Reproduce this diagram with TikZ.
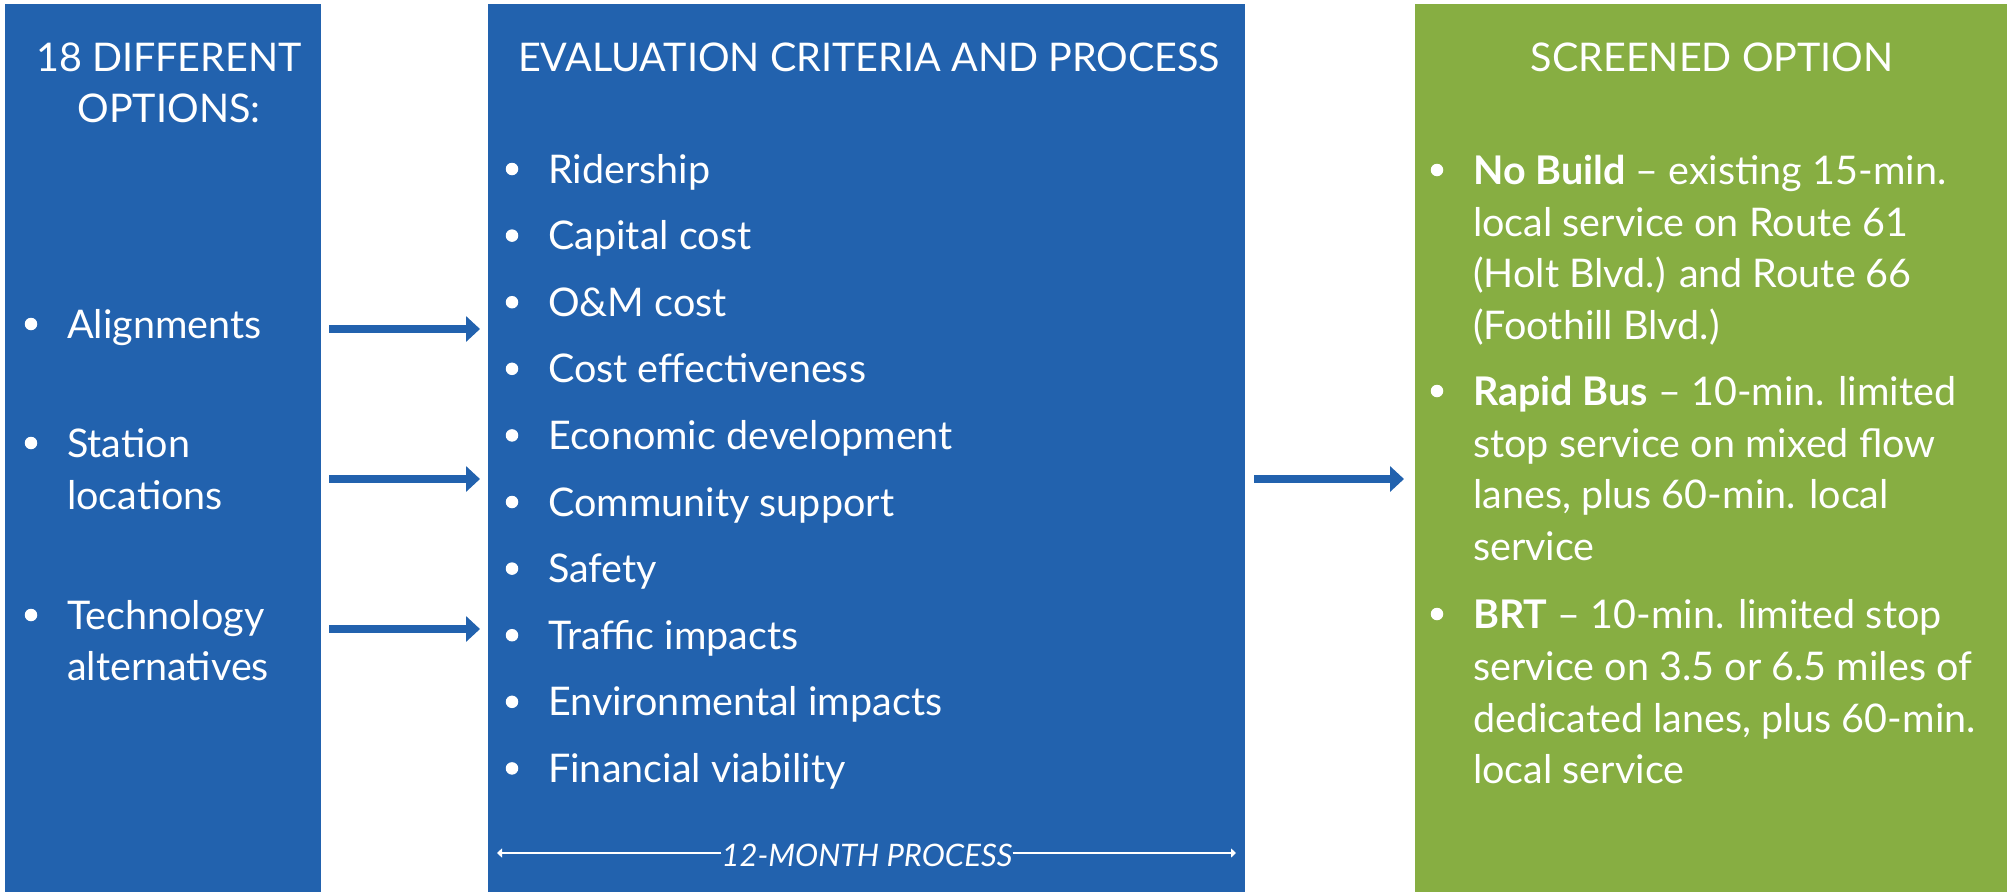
\documentclass[tikz,border=0pt]{standalone}
\usepackage{fontspec}
\setmainfont{Lato}[BoldFont=Lato Bold]
\usetikzlibrary{arrows.meta}
\definecolor{boxblue}{HTML}{2262AE}
\definecolor{boxgreen}{HTML}{87AE42}
\tikzset{
  ttl/.style={text=white,inner sep=0pt,anchor=base,font=\fontsize{39.5}{47}\selectfont},
  txt/.style={text=white,inner sep=0pt,anchor=base west,font=\fontsize{39.5}{47}\selectfont},
  bul/.style={fill=white,circle,minimum size=12.5pt,inner sep=0pt},
  fatarrow/.style={draw=boxblue,line width=7.5pt,-{Triangle[length=14pt,width=25pt]}},
  spanarrow/.style={draw=white,line width=2pt,-{Triangle[length=5pt,width=9pt]}}
}
\begin{document}
\begin{tikzpicture}[x=1pt,y=-1pt]
\useasboundingbox (0,0) rectangle (2007,892);
% panels
\fill[boxblue] (5,4) rectangle (321,892);
\fill[boxblue] (488,4) rectangle (1245,892);
\fill[boxgreen] (1415,4) rectangle (2007,892);
% titles
\node[ttl] (t1a) at (169,71) {18 DIFFERENT};
\node[ttl] (t1b) at (169,122) {OPTIONS:};
\node[ttl] (t2) at (869,71) {EVALUATION CRITERIA AND PROCESS};
\node[ttl] (t3) at (1712,71) {SCREENED OPTION};
% left items
\foreach \n/\y in {la/338,lb/457,lc/629}{\node[bul] (b\n) at (31,\y-14) {};}
\node[txt] (la) at (67,338) {Alignments};
\node[txt] (lb1) at (67,457) {Station};
\node[txt] (lb2) at (67,509) {locations};
\node[txt] (lc1) at (67,629) {Technology};
\node[txt] (lc2) at (67,680) {alternatives};
% middle items
\foreach \i/\t in {0/Ridership,1/Capital cost,2/O\&M cost,3/Cost effectiveness,4/Economic development,5/Community support,6/Safety,7/Traffic impacts,8/Environmental impacts,9/Financial viability}{
  \node[bul] (mb\i) at (512,183+66.6*\i-14) {};
  \node[txt] (m\i) at (548,183+66.6*\i) {\t};
}
% right items
\foreach \n/\y in {ra/184,rb/405,rc/628}{\node[bul] (b\n) at (1437,\y-14) {};}
\node[txt] (ra1) at (1473,184) {\textbf{No Build} – existing 15-min.};
\node[txt] (ra2) at (1473,236) {local service on Route 61};
\node[txt] (ra3) at (1473,287) {(Holt Blvd.) and Route 66};
\node[txt] (ra4) at (1473,339) {(Foothill Blvd.)};
\node[txt] (rb1) at (1473,405) {\textbf{Rapid Bus} – 10-min. limited};
\node[txt] (rb2) at (1473,457) {stop service on mixed flow};
\node[txt] (rb3) at (1473,508) {lanes, plus 60-min. local};
\node[txt] (rb4) at (1473,560) {service};
\node[txt] (rc1) at (1473,628) {\textbf{BRT} – 10-min. limited stop};
\node[txt] (rc2) at (1473,680) {service on 3.5 or 6.5 miles of};
\node[txt] (rc3) at (1473,732) {dedicated lanes, plus 60-min.};
\node[txt] (rc4) at (1473,783) {local service};
% arrows
\coordinate (a1s) at (329,329); \coordinate (a1e) at (480,329);
\coordinate (a2s) at (329,479); \coordinate (a2e) at (480,479);
\coordinate (a3s) at (329,629); \coordinate (a3e) at (480,629);
\coordinate (a4s) at (1254,479); \coordinate (a4e) at (1404,479);
\draw[fatarrow] (a1s) -- (a1e);
\draw[fatarrow] (a2s) -- (a2e);
\draw[fatarrow] (a3s) -- (a3e);
\draw[fatarrow] (a4s) -- (a4e);
% 12-month process
\node[text=white,inner sep=0pt,font=\fontsize{31}{31}\fontseries{l}\itshape] (pm) at (867,855) {12-MONTH PROCESS};
\coordinate (pl) at (497,853);
\coordinate (pr) at (1236,853);
\draw[spanarrow] (pm.west |- pl) -- (pl);
\draw[spanarrow] (pm.east |- pr) -- (pr);
\end{tikzpicture}
\end{document}
